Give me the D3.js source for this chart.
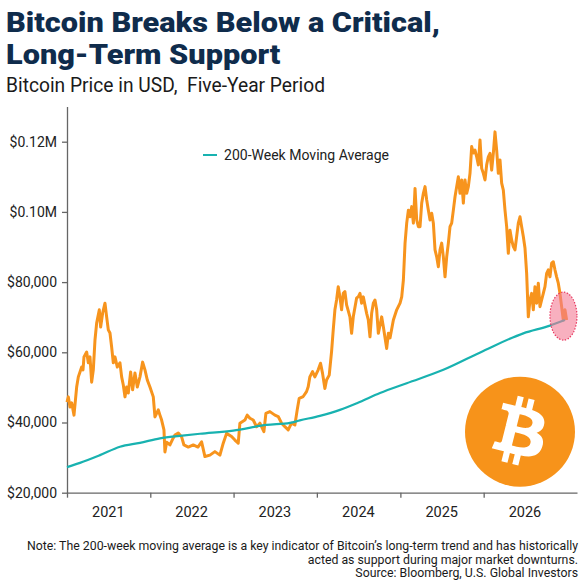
<!DOCTYPE html>
<html>
<head>
<meta charset="utf-8">
<script src="https://cdn.jsdelivr.net/npm/d3@7"></script>
<style>
  body { margin: 0; background: #fff; }
  text { font-family: Roboto, "Open Sans", sans-serif; }
</style>
</head>
<body>
<div id="chart"></div>
<script>
// Bitcoin price vs 200-week moving average
// values (decimal year, USD)

const priceDates = [
  2021.000, 2021.016, 2021.036, 2021.056, 2021.084, 2021.116, 2021.136, 2021.156, 2021.176, 2021.192,
  2021.204, 2021.236, 2021.256, 2021.276, 2021.296, 2021.316, 2021.336, 2021.356, 2021.388, 2021.404,
  2021.428, 2021.456, 2021.476, 2021.496, 2021.516, 2021.536, 2021.556, 2021.576, 2021.604, 2021.636,
  2021.656, 2021.676, 2021.696, 2021.716, 2021.736, 2021.764, 2021.788, 2021.816, 2021.844, 2021.876,
  2021.908, 2021.936, 2021.964, 2021.996, 2022.036, 2022.056, 2022.096, 2022.116, 2022.136, 2022.164,
  2022.176, 2022.196, 2022.236, 2022.276, 2022.296, 2022.336, 2022.376, 2022.404, 2022.456, 2022.516,
  2022.572, 2022.616, 2022.656, 2022.716, 2022.776, 2022.836, 2022.876, 2022.916, 2022.976, 2023.016,
  2023.056, 2023.076, 2023.136, 2023.164, 2023.196, 2023.236, 2023.276, 2023.316, 2023.364, 2023.388,
  2023.436, 2023.496, 2023.536, 2023.576, 2023.616, 2023.656, 2023.696, 2023.736, 2023.764, 2023.788,
  2023.836, 2023.876, 2023.896, 2023.916, 2023.948, 2023.976, 2024.016, 2024.044, 2024.068, 2024.096,
  2024.116, 2024.148, 2024.176, 2024.196, 2024.216, 2024.236, 2024.256, 2024.276, 2024.296, 2024.316,
  2024.336, 2024.356, 2024.396, 2024.416, 2024.436, 2024.476, 2024.496, 2024.516, 2024.536, 2024.556,
  2024.596, 2024.616, 2024.636, 2024.656, 2024.676, 2024.696, 2024.716, 2024.736, 2024.776, 2024.796,
  2024.836, 2024.856, 2024.876, 2024.916, 2024.956, 2024.996, 2025.016, 2025.036, 2025.056, 2025.076,
  2025.096, 2025.116, 2025.136, 2025.156, 2025.176, 2025.196, 2025.216, 2025.236, 2025.256, 2025.276,
  2025.296, 2025.316, 2025.336, 2025.356, 2025.376, 2025.396, 2025.416, 2025.436, 2025.456, 2025.476,
  2025.496, 2025.516, 2025.536, 2025.556, 2025.576, 2025.596, 2025.616, 2025.636, 2025.656, 2025.676,
  2025.696, 2025.716, 2025.736, 2025.756, 2025.776, 2025.796, 2025.816, 2025.836, 2025.856, 2025.876,
  2025.896, 2025.916, 2025.936, 2025.956, 2025.976, 2025.996, 2026.016, 2026.036, 2026.056, 2026.076,
  2026.096, 2026.116, 2026.136, 2026.156, 2026.176, 2026.196, 2026.216, 2026.236, 2026.256, 2026.276,
  2026.296, 2026.316, 2026.336, 2026.356, 2026.376, 2026.396, 2026.416, 2026.436, 2026.456, 2026.476,
  2026.496, 2026.516, 2026.536, 2026.556, 2026.576, 2026.596, 2026.616, 2026.636, 2026.656, 2026.676,
  2026.696, 2026.716, 2026.736, 2026.756, 2026.776, 2026.796, 2026.816, 2026.836, 2026.856, 2026.876,
  2026.896, 2026.916, 2026.936, 2026.956, 2026.976, 2026.996
];

const priceValues = [
  45800, 47300, 44400, 45600, 42100, 50100, 53000, 54400, 55800, 55000,
  58700, 60100, 57000, 58700, 51500, 55000, 63500, 68300, 72100, 67200,
  71200, 74000, 70100, 66400, 65500, 61500, 57000, 58700, 55800, 57000,
  53000, 50700, 47300, 50100, 48400, 54400, 49300, 54100, 50100, 53000,
  57200, 55000, 52100, 50100, 47300, 41600, 43600, 42100, 40700, 37900,
  31600, 34400, 33600, 35600, 36400, 37000, 35900, 33600, 33000, 33600,
  33000, 34500, 30300, 30700, 31700, 30700, 34100, 36900, 36000, 35000,
  34100, 39800, 40700, 42100, 41200, 40700, 38800, 39800, 37400, 42600,
  43100, 42100, 41700, 39800, 38800, 37900, 39800, 39300, 43600, 46900,
  47400, 48800, 50200, 53000, 54500, 53000, 55000, 56900, 54000, 49700,
  52100, 53500, 60200, 66400, 72100, 74900, 78700, 75800, 72100, 76800,
  77300, 73500, 70100, 65400, 70100, 75500, 75800, 76800, 74000, 75800,
  71100, 69200, 64400, 71100, 74000, 74900, 72100, 65400, 70100, 67300,
  61100, 65400, 64100, 69200, 72100, 74000, 75800, 80600, 91100, 96800,
  100500, 98600, 101500, 96800, 106700, 97700, 95800, 95800, 102500, 105300,
  107200, 103400, 100500, 97700, 99600, 96800, 89200, 87200, 84400, 89200,
  91100, 87200, 81500, 87200, 91100, 95800, 96800, 100500, 104300, 107200,
  110000, 105300, 109100, 102500, 109100, 105300, 107200, 111000, 118600, 116800,
  117600, 115700, 113400, 120500, 112400, 111000, 109100, 113400, 115700, 116700,
  111900, 116700, 122800, 117600, 111000, 114800, 108200, 106200, 100500, 95800,
  88200, 94800, 92000, 90100, 89200, 93000, 96800, 98600, 95800, 93000,
  89700, 82500, 70100, 74900, 76800, 72100, 78700, 74000, 79700, 73000,
  74900, 76800, 78700, 82500, 83500, 81500, 85400, 85800, 83500, 81500,
  79700, 76800, 73000, 69200, 72100, 69200
];

const maDates = [
  2021.000, 2021.156, 2021.396, 2021.636, 2021.876, 2022.116, 2022.356, 2022.596, 2022.996,
  2023.396, 2023.676, 2023.796, 2024.036, 2024.276, 2024.480, 2024.756, 2025.076, 2025.516,
  2025.996, 2026.476, 2026.796, 2026.976
];
const maValues = [
  27300, 28500, 30700, 33100, 34200, 35500, 36200, 36800, 37700,
  39300, 39900, 40600, 41900, 43600, 45500, 48400, 51200, 55000,
  60400, 65400, 67600, 69200
];

const yTicks = [20000, 40000, 60000, 80000, 100000, 120000];
const yearLabels = ["2021", "2022", "2023", "2024", "2025", "2026"];

const titleLines = ["Bitcoin Breaks Below a Critical,", "Long-Term Support"];
const subtitle = "Bitcoin Price in USD,\u00a0 Five-Year Period";
const legendLabel = "200-Week Moving Average";
const noteLines = [
  "Note: The 200-week moving average is a key indicator of Bitcoin\u2019s long-term trend and has historically",
  "acted as support during major market downturns.",
  "Source: Bloomberg, U.S. Global Investors"
];

// where the price touches the average
const breakPoint = { date: 2026.958, value: 70300 };

// decimal year -> Date
function toDate(t) {
  const y = Math.floor(t);
  const a = new Date(y, 0, 1), b = new Date(y + 1, 0, 1);
  return new Date(+a + (t - y) * (b - a));
}

const price = priceDates.map((t, i) => ({ date: toDate(t), value: priceValues[i] }));
const ma = maDates.map((t, i) => ({ date: toDate(t), value: maValues[i] }));

const width = 583;
const height = 583;
const marginLeft = 67;
const marginRight = 6;
const plotTop = 106.6;
const plotBottom = 492.7;

const x = d3.scaleTime()
  .domain([new Date(2021, 0, 1), new Date(2027, 1, 14)])
  .range([marginLeft, width - marginRight]);

const y = d3.scaleLinear()
  .domain([20000, 130000])
  .range([plotBottom, plotTop]);

const svg = d3.select("#chart")
  .append("svg")
  .attr("width", width)
  .attr("height", height)
  .attr("viewBox", [0, 0, width, height]);

// title: two lines squeezed to the reference width
const title = svg.append("g")
  .attr("fill", "#0f2c4c")
  .attr("font-weight", 900)
  .attr("font-size", 27.3);
const t1 = title.append("text").attr("x", 6).attr("y", 32).text(titleLines[0]);
const t2 = title.append("text").attr("x", 6).attr("y", 64).text(titleLines[1]);
const titleSqueeze = 434 / t1.node().getComputedTextLength();
[t1, t2].forEach(t => t.attr("textLength", t.node().getComputedTextLength() * titleSqueeze)
  .attr("lengthAdjust", "spacingAndGlyphs"));

svg.append("text")
  .attr("x", 6)
  .attr("y", 92)
  .attr("font-size", 19.5)
  .attr("fill", "#1a1a1a")
  .text(subtitle)
  .attr("textLength", 319)
  .attr("lengthAdjust", "spacingAndGlyphs");

// y axis
svg.append("g")
  .attr("transform", `translate(${marginLeft},0)`)
  .call(d3.axisLeft(y)
    .tickValues(yTicks)
    .tickSize(5)
    .tickSizeOuter(0)
    .tickPadding(5)
    .tickFormat(d => d >= 100000 ? "$" + (d / 1e6).toFixed(2) + "M" : d3.format("$,")(d)))
  .call(g => g.selectAll("path, line").attr("stroke", "#666").attr("stroke-width", 1.3))
  .call(g => g.selectAll("text").attr("font-size", 14).attr("fill", "#222")
    .attr("font-family", "Roboto, sans-serif"));

// x axis
svg.append("g")
  .attr("transform", `translate(0,${plotBottom})`)
  .call(d3.axisBottom(x)
    .tickValues(yearLabels.map(d => new Date(+d, 0, 1)))
    .tickSize(5)
    .tickSizeOuter(0)
    .tickFormat(""))
  .call(g => g.selectAll("path, line").attr("stroke", "#666").attr("stroke-width", 1.3));

svg.append("g")
  .selectAll("text")
  .data(yearLabels)
  .join("text")
    .attr("x", d => x(new Date(+d, 6, 1)))
    .attr("y", 517)
    .attr("text-anchor", "middle")
    .attr("font-size", 14.5)
    .attr("fill", "#222")
    .text(d => d);

// lines
const line = d3.line()
  .x(d => x(d.date))
  .y(d => y(d.value));

svg.append("path")
  .datum(price)
  .attr("fill", "none")
  .attr("stroke", "#f7941d")
  .attr("stroke-width", 3)
  .attr("stroke-linejoin", "round")
  .attr("d", line);

svg.append("path")
  .datum(ma)
  .attr("fill", "none")
  .attr("stroke", "#18b2b0")
  .attr("stroke-width", 2.2)
  .attr("d", line.curve(d3.curveMonotoneX));

// highlight where price meets the average
svg.append("ellipse")
  .attr("cx", x(toDate(breakPoint.date)))
  .attr("cy", y(breakPoint.value))
  .attr("rx", 13.5)
  .attr("ry", 24)
  .attr("fill", "#f47c95")
  .attr("fill-opacity", 0.6)
  .attr("stroke", "#e8375f")
  .attr("stroke-width", 1.2)
  .attr("stroke-dasharray", "1.5,1.5");

// legend
svg.append("line")
  .attr("x1", 203).attr("x2", 217)
  .attr("y1", 155).attr("y2", 155)
  .attr("stroke", "#18b2b0")
  .attr("stroke-width", 2);
svg.append("text")
  .attr("x", 224)
  .attr("y", 160)
  .attr("font-size", 14)
  .attr("fill", "#222")
  .text(legendLabel)
  .attr("textLength", 165)
  .attr("lengthAdjust", "spacingAndGlyphs");

// bitcoin logo
const logo = svg.append("g").attr("transform", "translate(465,376.7) scale(1.71875)");
logo.append("circle").attr("cx", 32).attr("cy", 32).attr("r", 32).attr("fill", "#f7931a");
logo.append("path")
  .attr("fill", "#fff")
  .attr("fill-rule", "evenodd")
  .attr("d", "M46.103,27.444c0.637-4.258-2.605-6.547-7.038-8.074l1.438-5.768l-3.511-0.875l-1.4,5.616c-0.923-0.23-1.871-0.447-2.813-0.662l1.41-5.653l-3.509-0.875l-1.439,5.766c-0.764-0.174-1.514-0.346-2.242-0.527l0.004-0.018l-4.842-1.209l-0.934,3.75c0,0,2.605,0.597,2.55,0.634c1.422,0.355,1.679,1.296,1.636,2.042l-1.638,6.571c0.098,0.025,0.225,0.061,0.365,0.117c-0.117-0.029-0.242-0.061-0.371-0.092l-2.296,9.205c-0.174,0.432-0.615,1.08-1.609,0.834c0.035,0.051-2.552-0.637-2.552-0.637l-1.743,4.019l4.569,1.139c0.85,0.213,1.683,0.436,2.503,0.646l-1.453,5.834l3.507,0.875l1.439-5.772c0.958,0.26,1.888,0.5,2.798,0.726l-1.434,5.745l3.511,0.875l1.453-5.823c5.987,1.133,10.489,0.676,12.384-4.739c1.527-4.36-0.076-6.875-3.226-8.515c2.294-0.529,4.022-2.038,4.483-5.155z M38.086,38.625c-1.085,4.36-8.426,2.003-10.806,1.412l1.928-7.729c2.38,0.594,10.012,1.77,8.878,6.317z M39.172,27.381c-0.99,3.966-7.1,1.951-9.082,1.457l1.748-7.01c1.982,0.494,8.365,1.416,7.334,5.553z");

// note
const notes = svg.append("g")
  .attr("font-size", 12)
  .attr("fill", "#1a1a1a")
  .attr("text-anchor", "end");
const noteText = notes.selectAll("text")
  .data(noteLines)
  .join("text")
    .attr("x", 578)
    .attr("y", (d, i) => 550 + i * 13.7)
    .text(d => d);
const noteSqueeze = 551 / noteText.node().getComputedTextLength();
noteText.each(function() {
  d3.select(this)
    .attr("textLength", this.getComputedTextLength() * noteSqueeze)
    .attr("lengthAdjust", "spacingAndGlyphs");
});
</script>
</body>
</html>
